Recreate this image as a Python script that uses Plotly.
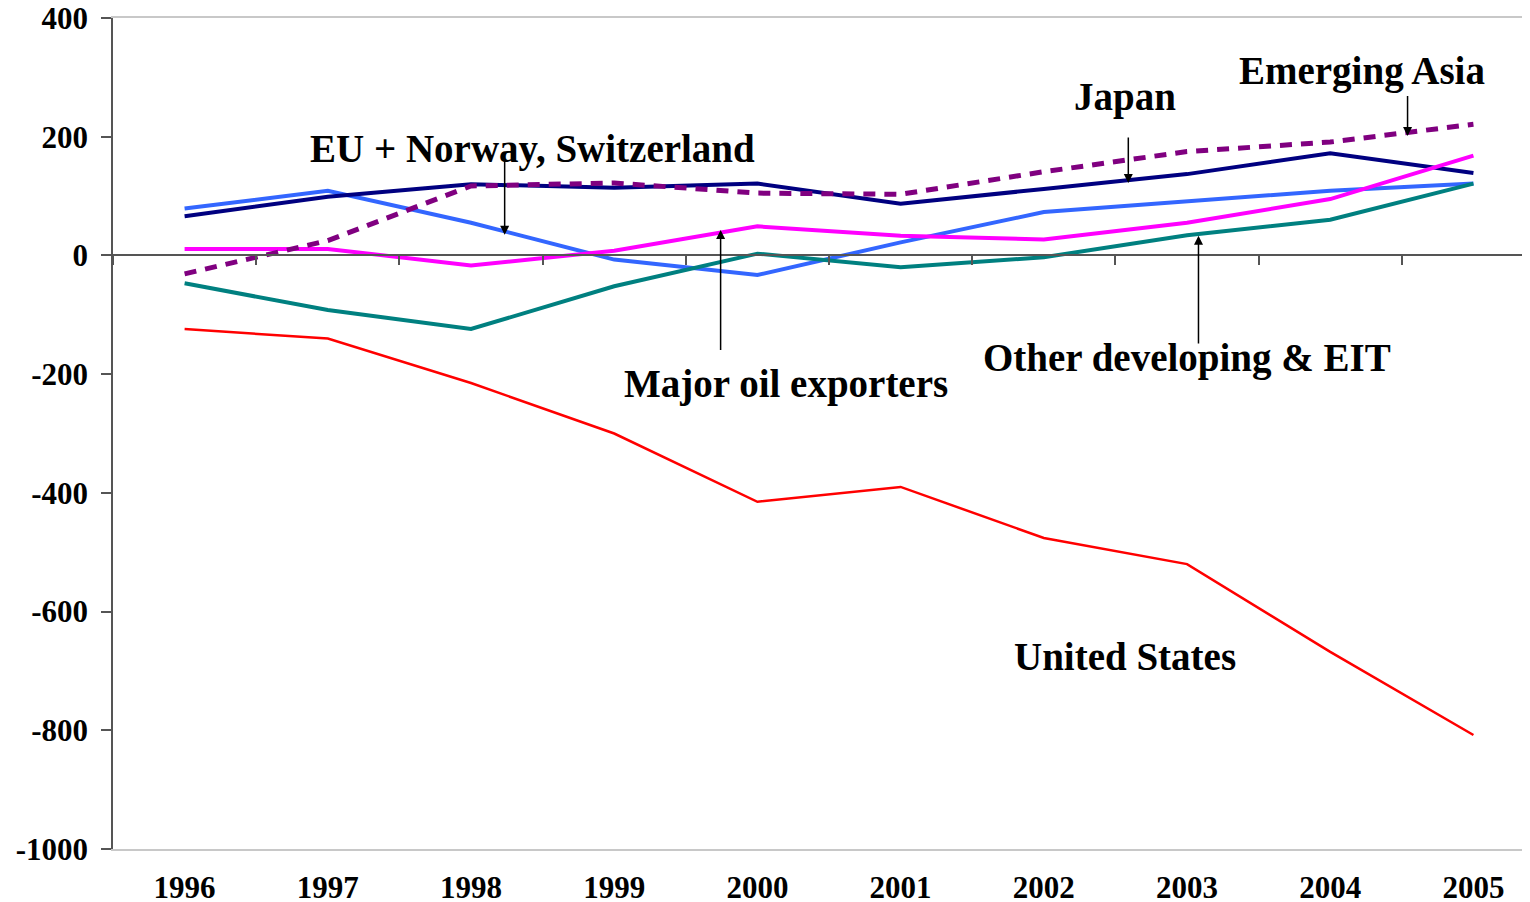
import plotly.graph_objects as go

years = ["1996", "1997", "1998", "1999", "2000", "2001", "2002", "2003", "2004", "2005"]
us = [-124, -140, -215, -300, -415, -390, -476, -520, -668, -808]
eu = [79, 109, 55, -7, -33, 22, 73, 91, 109, 121]
japan = [66, 99, 120, 114, 121, 87, 112, 137, 172, 139]
other_dev = [-47, -92, -124, -52, 3, -20, -3, 34, 60, 121]
oil = [11, 11, -17, 8, 49, 33, 27, 55, 95, 168]
em_asia = [-31, 25, 117, 122, 105, 103, 141, 175, 191, 221]

y_ticks = [400, 200, 0, -200, -400, -600, -800, -1000]
y_tick_text = [str(v) for v in y_ticks]

FONT = "Liberation Serif"

fig = go.Figure()
series = [
    ("United States", us, "#FF0000", 2.5, "solid"),
    ("EU + Norway, Switzerland", eu, "#3366FF", 4, "solid"),
    ("Japan", japan, "#000080", 4, "solid"),
    ("Other developing & EIT", other_dev, "#008080", 4, "solid"),
    ("Major oil exporters", oil, "#FF00FF", 4, "solid"),
    ("Emerging Asia", em_asia, "#800080", 5, "12px,9px"),
]
for name, vals, col, w, dash in series:
    fig.add_trace(go.Scatter(x=years, y=vals, mode="lines", name=name,
                             line=dict(color=col, width=w, dash=dash),
                             showlegend=False))

# dummy trace for the zero-line axis with tick marks
fig.add_trace(go.Scatter(x=years, y=[None] * len(years), xaxis="x2",
                         showlegend=False, hoverinfo="skip"))

labels = [
    ("EU + Norway, Switzerland", 2.43, 180),
    ("Japan", 6.57, 267),
    ("Emerging Asia", 8.225, 311),
    ("Major oil exporters", 4.2, -216),
    ("Other developing & EIT", 7.0, -172),
    ("United States", 6.57, -676),
]
for txt, x, y in labels:
    fig.add_annotation(x=x, y=y, xref="x", yref="y", text="<b>" + txt + "</b>",
                       showarrow=False, font=dict(family=FONT, size=39, color="black"))

arrows = [
    (2.235, 35, 2.235, 161),
    (6.59, 122, 6.59, 201),
    (8.54, 201, 8.54, 271),
    (3.743, 43, 3.743, -162),
    (7.08, 33, 7.08, -151),
]
for x, y, ax, ay in arrows:
    fig.add_annotation(x=x, y=y, ax=ax, ay=ay, xref="x", yref="y", axref="x", ayref="y",
                       text="", showarrow=True, arrowhead=2, arrowsize=1.2,
                       arrowwidth=1.5, arrowcolor="black")

# page body has an 8px margin, so the figure is sized/offset to compensate
fig.update_layout(
    width=1522, height=894,
    margin=dict(l=105, r=0, t=10, b=53),
    paper_bgcolor="white", plot_bgcolor="white",
    font=dict(family=FONT, color="black"),
    xaxis=dict(type="category", categoryorder="array", categoryarray=years,
               range=[-0.5, 9.395], showgrid=False, zeroline=False, automargin=False,
               showline=True, linecolor="#C8C8C8", linewidth=2, mirror=True,
               ticks="", ticklabelstandoff=10, ticklabeloverflow="allow",
               tickfont=dict(family=FONT, size=31, color="black", weight="bold")),
    xaxis2=dict(type="category", categoryorder="array", categoryarray=years,
                range=[-0.5, 9.395], overlaying="x", anchor="free", automargin=False,
                position=1000 / 1400, side="bottom", showgrid=False, zeroline=False,
                showline=True, linecolor="#555555", linewidth=1.5,
                ticks="outside", tickson="boundaries", ticklen=9, tickcolor="#555555",
                tickwidth=1.5, showticklabels=False),
    yaxis=dict(range=[-1000, 400], tickvals=y_ticks, ticktext=y_tick_text,
               showgrid=False, automargin=False,
               zeroline=False, showline=True, linecolor="#555555", linewidth=1.5,
               ticks="outside", ticklen=10, tickcolor="#555555", tickwidth=1.5,
               ticklabelstandoff=7, ticklabeloverflow="allow",
               tickfont=dict(family=FONT, size=31, color="black", weight="bold")),
)

fig.write_html("out.html")
